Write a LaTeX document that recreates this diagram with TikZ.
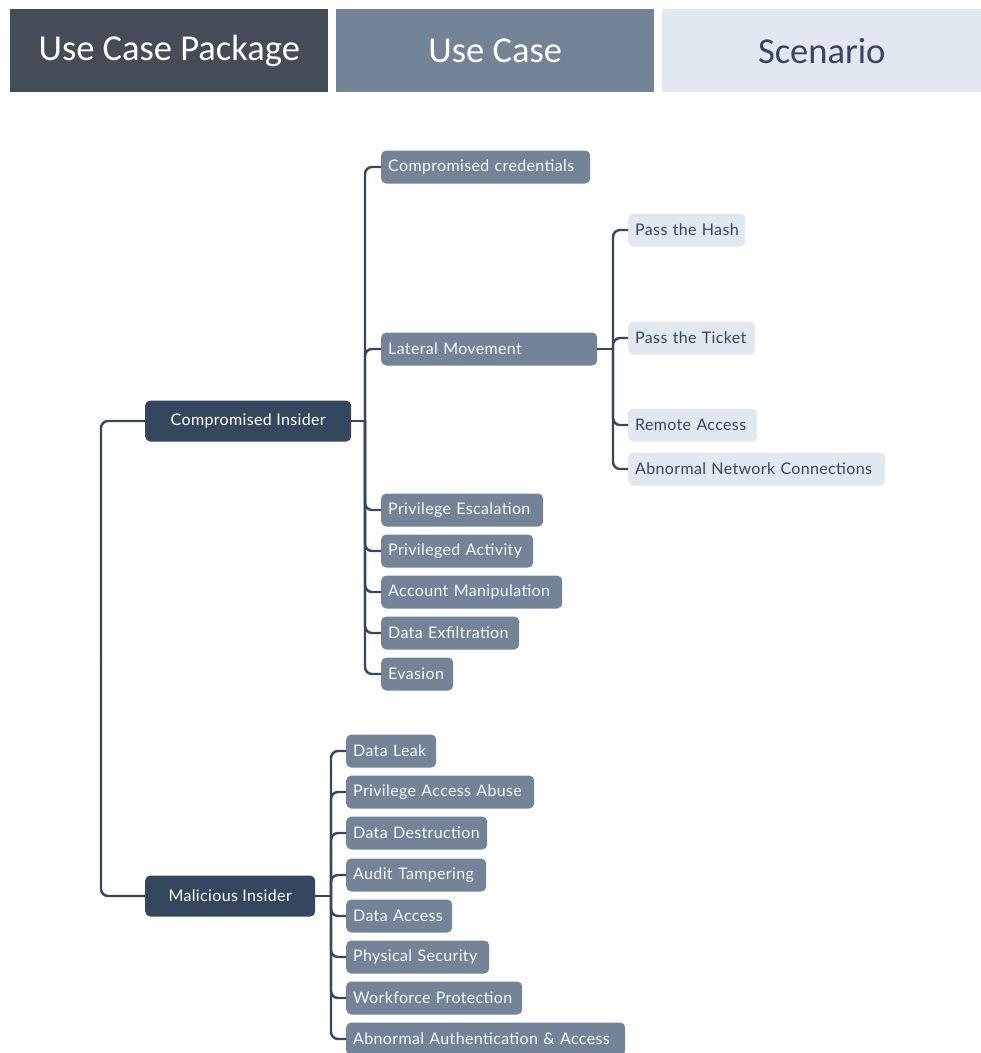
\documentclass[tikz,border=0pt]{standalone}
\usepackage{fontspec}
\setmainfont{Lato}[LetterSpace=2.2]
\newfontfamily\headfont{Carlito}
\definecolor{hdA}{HTML}{434C57}
\definecolor{hdB}{HTML}{738497}
\definecolor{hdC}{HTML}{E2E8F0}
\definecolor{navy}{HTML}{34475F}
\definecolor{slate}{HTML}{738499}
\definecolor{mist}{HTML}{E2E8F0}
\begin{document}
\begin{tikzpicture}[x=1pt,y=-1pt,
  header/.style={anchor=north west, minimum height=83pt, inner sep=0pt,
    font=\headfont\fontsize{36.5}{40}\selectfont},
  pkg/.style={anchor=west, fill=navy, text=white, rounded corners=5pt,
    minimum height=41pt, inner xsep=0pt, align=center,
    font=\fontsize{16}{19}\selectfont},
  uc/.style={anchor=west, fill=slate, text=white!94!slate, rounded corners=5pt,
    minimum height=33pt, inner xsep=7pt, align=left,
    font=\fontsize{16}{19}\selectfont},
  sc/.style={anchor=west, fill=mist, text=navy, rounded corners=5pt,
    minimum height=33pt, inner xsep=7pt, align=left,
    font=\fontsize{16}{19}\selectfont},
  link/.style={draw=navy, line width=2.4pt, rounded corners=7pt},
]
\useasboundingbox (0,0) rectangle (981,1053);

% column headers
\node[header, fill=hdA, text=white, minimum width=318pt] (h1) at (10,9) {\raisebox{-3pt}{Use Case Package}};
\node[header, fill=hdB, text=white, minimum width=318pt] (h2) at (336,9) {\raisebox{-3pt}{Use Case}};
\node[header, fill=hdC, text=navy, minimum width=319pt] (h3) at (662,9) {\raisebox{-3pt}{Scenario}};

% use case packages
\node[pkg, minimum width=206pt] (ci) at (145,421) {Compromised Insider};
\node[pkg, minimum width=170pt] (mi) at (145,896) {Malicious Insider};

% use cases of the compromised insider
\node[uc, text width=195pt] (cc)  at (381,167) {Compromised credentials};
\node[uc, text width=202pt] (lm)  at (381,349) {Lateral Movement};
\node[uc, text width=148pt] (pe)  at (381,510) {Privilege Escalation};
\node[uc, text width=138pt] (pa)  at (381,551) {Privileged Activity};
\node[uc, text width=167pt] (am)  at (381,592) {Account Manipulation};
\node[uc, text width=124pt] (de)  at (381,633) {Data Exfiltration};
\node[uc, text width=58pt]  (ev)  at (381,674) {Evasion};

% scenarios of lateral movement
\node[sc, text width=103pt] (pth) at (628,230) {\mbox{Pass the Hash}};
\node[sc, text width=113pt] (ptt) at (628,338) {\mbox{Pass the Ticket}};
\node[sc, text width=115pt] (ra)  at (628,425) {\mbox{Remote Access}};
\node[sc, text width=243pt] (anc) at (628,469) {Abnormal Network Connections};

% use cases of the malicious insider
\node[uc, text width=76pt]  (dl)  at (346,751) {\mbox{Data Leak}};
\node[uc, text width=174pt] (paa) at (346,792) {Privilege Access Abuse};
\node[uc, text width=127pt] (dd)  at (346,833) {Data Destruction};
\node[uc, text width=126pt] (at)  at (346,875) {Audit Tampering};
\node[uc, text width=92pt]  (da)  at (346,916) {\mbox{Data Access}};
\node[uc, text width=129pt] (ps)  at (346,957) {Physical Security};
\node[uc, text width=162pt] (wp)  at (346,998) {Workforce Protection};
\node[uc, text width=265pt] (aaa) at (346,1039) {Abnormal Authentication \& Access};

% branch points
\coordinate (root) at (101,658);
\coordinate (ciJ) at (365,421);
\coordinate (lmJ) at (613,349);
\coordinate (miJ) at (331,896);

% connectors
\foreach \c in {ci,mi} \draw[link] (root) |- (\c.west);
\draw[link] (ci.east) -- (ciJ);
\foreach \c in {cc,lm,pe,pa,am,de,ev} \draw[link] (ciJ) |- (\c.west);
\draw[link] (lm.east) -- (lmJ);
\foreach \c in {pth,ptt,ra,anc} \draw[link] (lmJ) |- (\c.west);
\draw[link] (mi.east) -- (miJ);
\foreach \c in {dl,paa,dd,at,da,ps,wp,aaa} \draw[link] (miJ) |- (\c.west);
\end{tikzpicture}
\end{document}
